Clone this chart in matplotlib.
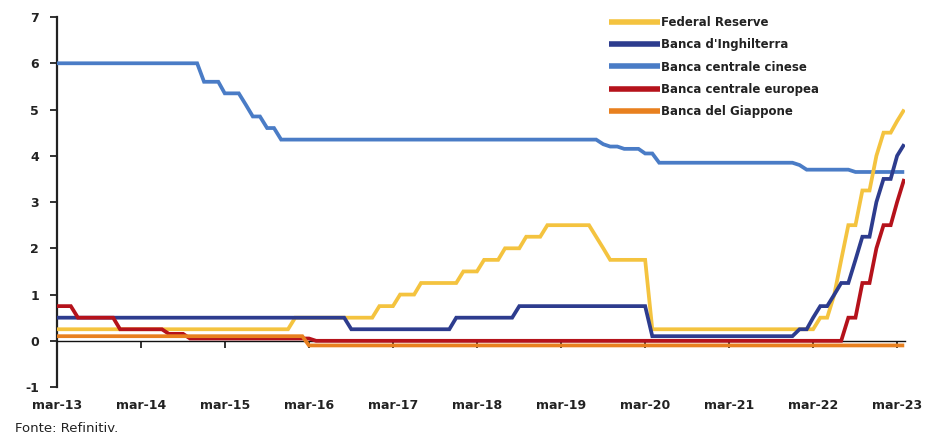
import matplotlib
matplotlib.use("Agg")
import matplotlib.pyplot as plt
import pandas as pd

# ---- data (month-end policy rates, %) ----
fed_dates = ['2013-02', '2015-11', '2015-12', '2016-11', '2016-12', '2017-02', '2017-03', '2017-05',
             '2017-06', '2017-11', '2017-12', '2018-02', '2018-03', '2018-05', '2018-06', '2018-08',
             '2018-09', '2018-11', '2018-12', '2019-06', '2019-07', '2019-08', '2019-09', '2020-02',
             '2020-03', '2022-02', '2022-03', '2022-04', '2022-05', '2022-06', '2022-07', '2022-08',
             '2022-09', '2022-10', '2022-11', '2022-12', '2023-01', '2023-02', '2023-03']
fed_vals = [0.25, 0.25, 0.5, 0.5, 0.75, 0.75, 1.0, 1.0,
            1.25, 1.25, 1.5, 1.5, 1.75, 1.75, 2.0, 2.0,
            2.25, 2.25, 2.5, 2.5, 2.25, 2.0, 1.75, 1.75,
            0.25, 0.25, 0.5, 0.5, 1.0, 1.75, 2.5, 2.5,
            3.25, 3.25, 4.0, 4.5, 4.5, 4.75, 5.0]

boe_dates = ['2013-02', '2016-07', '2016-08', '2017-10', '2017-11', '2018-07', '2018-08', '2020-02',
             '2020-03', '2021-11', '2021-12', '2022-01', '2022-02', '2022-03', '2022-04', '2022-05',
             '2022-06', '2022-07', '2022-08', '2022-09', '2022-10', '2022-11', '2022-12', '2023-01',
             '2023-02', '2023-03']
boe_vals = [0.5, 0.5, 0.25, 0.25, 0.5, 0.5, 0.75, 0.75,
            0.1, 0.1, 0.25, 0.25, 0.5, 0.75, 0.75, 1.0,
            1.25, 1.25, 1.75, 2.25, 2.25, 3.0, 3.5, 3.5,
            4.0, 4.25]

pboc_dates = ['2013-02', '2014-10', '2014-11', '2015-01', '2015-02', '2015-04', '2015-05', '2015-06',
              '2015-07', '2015-08', '2015-09', '2015-10', '2019-07', '2019-08', '2019-09', '2019-10',
              '2019-11', '2020-01', '2020-02', '2020-03', '2020-04', '2021-11', '2021-12', '2022-01',
              '2022-07', '2022-08', '2023-03']
pboc_vals = [6.0, 6.0, 5.6, 5.6, 5.35, 5.35, 5.1, 4.85,
             4.85, 4.6, 4.6, 4.35, 4.35, 4.25, 4.2, 4.2,
             4.15, 4.15, 4.05, 4.05, 3.85, 3.85, 3.8, 3.7,
             3.7, 3.65, 3.65]

ecb_dates = ['2013-02', '2013-04', '2013-05', '2013-10', '2013-11', '2014-05', '2014-06', '2014-08',
             '2014-09', '2016-02', '2016-03', '2022-06', '2022-07', '2022-08', '2022-09', '2022-10',
             '2022-11', '2022-12', '2023-01', '2023-02', '2023-03']
ecb_vals = [0.75, 0.75, 0.5, 0.5, 0.25, 0.25, 0.15, 0.15,
            0.05, 0.05, 0.0, 0.0, 0.5, 0.5, 1.25, 1.25,
            2.0, 2.5, 2.5, 3.0, 3.5]

boj_dates = ['2013-02', '2016-01', '2016-02', '2023-03']
boj_vals = [0.1, 0.1, -0.1, -0.1]

series_names = ['Federal Reserve', "Banca d'Inghilterra", 'Banca centrale cinese',
                'Banca centrale europea', 'Banca del Giappone']
tick_years = list(range(2013, 2024))
tick_labels = ['mar-13', 'mar-14', 'mar-15', 'mar-16', 'mar-17', 'mar-18',
               'mar-19', 'mar-20', 'mar-21', 'mar-22', 'mar-23']
source_text = 'Fonte: Refinitiv.'

# ---- styling ----
colors = {
    'Federal Reserve': '#F4C33F',
    "Banca d'Inghilterra": '#2D3C8E',
    'Banca centrale cinese': '#4A7CC6',
    'Banca centrale europea': '#B5121B',
    'Banca del Giappone': '#E8801F',
}
data = {
    'Federal Reserve': (fed_dates, fed_vals),
    "Banca d'Inghilterra": (boe_dates, boe_vals),
    'Banca centrale cinese': (pboc_dates, pboc_vals),
    'Banca centrale europea': (ecb_dates, ecb_vals),
    'Banca del Giappone': (boj_dates, boj_vals),
}
draw_order = ['Banca centrale cinese', 'Federal Reserve', "Banca d'Inghilterra",
              'Banca centrale europea', 'Banca del Giappone']

plt.rcParams['font.family'] = ['DejaVu Sans']
plt.rcParams['axes.unicode_minus'] = False

fig = plt.figure(figsize=(9.30, 4.48), dpi=100)
fig.patch.set_facecolor('white')
ax = fig.add_axes([0.0613, 0.136, 0.912, 0.826])

handles = {}
for name in draw_order:
    d, v = data[name]
    x = pd.to_datetime(d) + pd.offsets.MonthEnd(0)
    ln, = ax.plot(x, v, color=colors[name], lw=2.7, solid_joinstyle='miter',
                  solid_capstyle='butt', zorder=3, label=name)
    handles[name] = ln

ax.set_ylim(-1, 7)
ax.set_yticks(range(-1, 8))
ax.set_xlim(pd.Timestamp('2013-03-01'), pd.Timestamp('2023-04-04'))
ax.set_xticks([pd.Timestamp(f'{y}-03-01') for y in tick_years])
ax.set_xticklabels(tick_labels)

for s in ['top', 'right']:
    ax.spines[s].set_visible(False)
ax.spines['bottom'].set_position(('data', 0))
ax.spines['bottom'].set_linewidth(1.0)
ax.spines['bottom'].set_color('#111111')
ax.spines['left'].set_linewidth(1.6)
ax.spines['left'].set_color('#222222')

ax.tick_params(axis='y', direction='out', length=5, width=1.3, colors='#222222',
               labelsize=9, pad=8)
ax.tick_params(axis='x', direction='out', length=5, width=1.3, colors='#222222',
               labelsize=9, pad=37)
for lab in ax.get_xticklabels() + ax.get_yticklabels():
    lab.set_fontweight('bold')
    lab.set_color('#222222')

leg = fig.legend([handles[n] for n in series_names], series_names,
                 loc='upper left', bbox_to_anchor=(0.655, 0.965),
                 bbox_transform=fig.transFigure, frameon=False,
                 fontsize=8.5, handlelength=4.3, handletextpad=0.05,
                 labelspacing=0.8, borderpad=0, borderaxespad=0)
for t in leg.get_texts():
    t.set_fontweight('bold')
    t.set_color('#222222')
for l in leg.get_lines():
    l.set_linewidth(4)

fig.text(0.016, 0.03, source_text, fontsize=9.5, color='#222222', ha='left', va='bottom')

fig.savefig('out.png', dpi=100, facecolor='white')
